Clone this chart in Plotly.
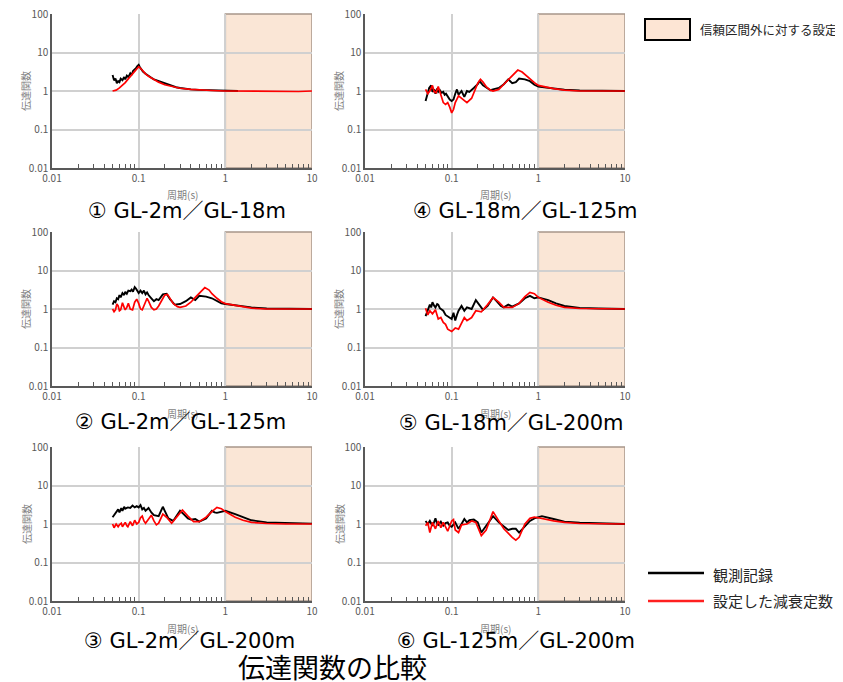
import plotly.graph_objects as go

# page body has an 8px margin; figure is sized to fill the rest of the window
OFF = 8
W, H = 835, 674

panel_labels = ["① GL-2m／GL-18m", "② GL-2m／GL-125m", "③ GL-2m／GL-200m",
                "④ GL-18m／GL-125m", "⑤ GL-18m／GL-200m", "⑥ GL-125m／GL-200m"]
title_text = "伝達関数の比較"
y_title = "伝達関数"
x_title = "周期(s)"
legend_shade = "信頼区間外に対する設定"
legend_obs = "観測記録"
legend_set = "設定した減衰定数"

x_ticks = [0.01, 0.1, 1, 10]
x_tick_text = ["0.01", "0.1", "1", "10"]
x_minor_ticks = [0.02, 0.03, 0.04, 0.05, 0.06, 0.07, 0.08, 0.09,
                 0.2, 0.3, 0.4, 0.5, 0.6, 0.7, 0.8, 0.9,
                 2, 3, 4, 5, 6, 7, 8, 9]
y_ticks = [0.01, 0.1, 1, 10, 100]
y_tick_text = ["0.01", "0.1", "1", "10", "100"]
shade_from, shade_to = 1, 10

# ① GL-2m / GL-18m
T1_obs = [0.050, 0.052, 0.054, 0.056, 0.058, 0.060, 0.062, 0.065, 0.068, 0.070, 0.073, 0.076, 0.080,
          0.083, 0.086, 0.090, 0.093, 0.096, 0.100, 0.103, 0.107, 0.112, 0.12, 0.13, 0.14, 0.15, 0.17,
          0.19, 0.21, 0.24, 0.27, 0.30, 0.35, 0.40, 0.50, 0.60, 0.70, 0.85, 1.0, 1.2, 1.4]
V1_obs = [2.6, 1.9, 2.1, 1.6, 1.8, 1.7, 2.1, 1.9, 2.3, 2.0, 2.5, 2.3, 2.9,
          2.6, 3.3, 3.6, 3.9, 4.4, 4.8, 4.2, 3.7, 3.2, 2.8, 2.4, 2.2, 2.0, 1.8,
          1.65, 1.5, 1.35, 1.25, 1.2, 1.14, 1.1, 1.07, 1.05, 1.04, 1.03, 1.02, 1.0, 1.0]
T1_set = [0.050, 0.055, 0.060, 0.065, 0.070, 0.075, 0.080, 0.085, 0.090, 0.095, 0.100, 0.105, 0.110,
          0.12, 0.13, 0.15, 0.17, 0.20, 0.25, 0.30, 0.40, 0.50, 0.70, 1.0, 1.5, 2.0, 3.0, 5.0, 7.0, 10.0]
V1_set = [1.0, 1.05, 1.2, 1.4, 1.65, 2.0, 2.4, 2.9, 3.4, 3.9, 4.3, 3.9, 3.4,
          2.8, 2.4, 1.95, 1.7, 1.45, 1.28, 1.18, 1.1, 1.06, 1.03, 1.0, 0.99, 0.98, 0.97, 0.97, 0.97, 1.0]

# ② GL-2m / GL-125m
T2_obs = [0.050, 0.052, 0.054, 0.056, 0.058, 0.060, 0.062, 0.065, 0.068, 0.070, 0.073, 0.076, 0.080,
          0.083, 0.086, 0.090, 0.093, 0.096, 0.100, 0.105, 0.110, 0.115, 0.12, 0.125, 0.13, 0.14, 0.15,
          0.16, 0.17, 0.19, 0.21, 0.23, 0.26, 0.30, 0.35, 0.40, 0.45, 0.50, 0.60, 0.70, 0.80, 0.90,
          1.0, 1.5, 2.0, 3.0, 5.0, 10.0]
V2_obs = [1.3, 1.6, 1.5, 1.9, 1.8, 2.3, 2.0, 2.6, 2.3, 2.8, 2.5, 3.0, 2.9,
          3.2, 2.8, 3.7, 3.4, 3.1, 2.6, 3.0, 2.6, 3.0, 2.4, 2.7, 2.3, 1.9, 1.6,
          1.8, 1.7, 2.4, 2.5, 1.8, 1.3, 1.35, 1.6, 2.0, 1.7, 2.2, 2.1, 1.9, 1.6, 1.4,
          1.35, 1.2, 1.1, 1.03, 1.0, 1.0]
T2_set = [0.050, 0.052, 0.054, 0.056, 0.058, 0.060, 0.062, 0.065, 0.068, 0.070, 0.073, 0.076, 0.080,
          0.085, 0.090, 0.095, 0.100, 0.105, 0.110, 0.115, 0.120, 0.125, 0.130, 0.140, 0.150, 0.160,
          0.170, 0.185, 0.200, 0.215, 0.230, 0.250, 0.280, 0.300, 0.350, 0.400, 0.450, 0.500, 0.550,
          0.580, 0.650, 0.700, 0.800, 0.900, 1.0, 1.5, 2.0, 3.0, 5.0, 10.0]
V2_set = [1.0, 0.85, 0.95, 1.35, 1.2, 0.9, 0.95, 1.45, 1.1, 0.95, 1.1, 1.4, 1.0,
          0.95, 1.5, 1.8, 1.4, 1.0, 0.95, 1.2, 1.6, 1.9, 1.6, 1.1, 0.95, 1.0,
          1.2, 1.7, 2.3, 2.4, 1.9, 1.4, 1.15, 1.1, 1.2, 1.5, 2.0, 2.6, 3.2,
          3.6, 3.1, 2.5, 1.9, 1.55, 1.38, 1.15, 1.05, 1.0, 1.0, 1.0]

# ③ GL-2m / GL-200m
T3_obs = [0.050, 0.052, 0.055, 0.058, 0.060, 0.063, 0.065, 0.068, 0.070, 0.075, 0.080, 0.085, 0.090,
          0.095, 0.100, 0.105, 0.110, 0.115, 0.12, 0.13, 0.14, 0.15, 0.17, 0.19, 0.20, 0.22, 0.25,
          0.28, 0.30, 0.33, 0.37, 0.40, 0.45, 0.50, 0.60, 0.70, 0.75, 0.80, 0.90, 1.0, 1.3, 1.6,
          2.0, 3.0, 5.0, 10.0]
V3_obs = [1.5, 1.7, 1.9, 2.4, 2.0, 2.6, 2.2, 2.8, 2.5, 2.7, 2.6, 3.0, 2.7,
          2.9, 2.7, 3.1, 2.4, 2.6, 2.2, 2.6, 2.0, 1.7, 1.6, 2.8, 2.2, 1.4, 1.2,
          1.7, 2.2, 1.8, 1.4, 1.3, 1.35, 1.15, 1.4, 2.2, 2.0, 1.95, 2.05, 2.2, 1.8, 1.5,
          1.25, 1.1, 1.05, 1.02]
T3_set = [0.050, 0.052, 0.055, 0.058, 0.060, 0.063, 0.065, 0.068, 0.070, 0.073, 0.075, 0.080, 0.085,
          0.090, 0.095, 0.100, 0.105, 0.110, 0.115, 0.12, 0.13, 0.14, 0.15, 0.16, 0.17, 0.19, 0.21,
          0.24, 0.28, 0.32, 0.37, 0.43, 0.50, 0.60, 0.70, 0.80, 0.90, 1.0, 1.3, 1.6, 2.0, 3.0, 5.0, 10.0]
V3_set = [1.0, 0.8, 1.0, 0.85, 0.95, 1.05, 0.85, 1.0, 1.1, 0.9, 0.85, 1.15, 0.9,
          1.25, 1.0, 1.1, 1.45, 1.6, 1.2, 1.05, 1.35, 1.7, 1.2, 0.95, 1.05, 1.8, 1.5,
          1.05, 1.6, 2.3, 1.6, 1.15, 1.15, 1.5, 2.1, 2.7, 2.5, 2.1, 1.5, 1.25, 1.1, 1.03, 1.0, 1.0]

# ④ GL-18m / GL-125m
T4_obs = [0.050, 0.052, 0.055, 0.058, 0.060, 0.063, 0.065, 0.068, 0.070, 0.073, 0.076, 0.080, 0.083,
          0.086, 0.090, 0.095, 0.100, 0.105, 0.110, 0.115, 0.12, 0.13, 0.14, 0.15, 0.16, 0.17, 0.18,
          0.20, 0.21, 0.23, 0.25, 0.28, 0.30, 0.35, 0.40, 0.45, 0.50, 0.55, 0.60, 0.70, 0.80, 0.90,
          1.0, 1.5, 2.0, 3.0, 5.0, 10.0]
V4_obs = [0.55, 0.75, 1.2, 1.4, 0.95, 1.1, 0.85, 1.15, 0.95, 1.05, 0.9, 0.95, 0.8,
          0.85, 0.7, 0.6, 0.55, 0.6, 0.85, 1.1, 0.8, 1.0, 0.7, 1.0, 0.95, 1.1, 1.2,
          1.5, 1.8, 1.4, 1.25, 1.05, 1.1, 1.2, 1.5, 2.0, 1.6, 1.7, 2.1, 2.0, 1.8, 1.45,
          1.3, 1.15, 1.08, 1.03, 1.0, 1.0]
T4_set = [0.050, 0.053, 0.056, 0.060, 0.063, 0.066, 0.070, 0.073, 0.076, 0.080, 0.085, 0.090, 0.095,
          0.100, 0.105, 0.110, 0.120, 0.130, 0.140, 0.150, 0.170, 0.190, 0.200, 0.215, 0.230, 0.250,
          0.280, 0.300, 0.350, 0.400, 0.450, 0.500, 0.580, 0.650, 0.700, 0.800, 0.900, 1.0, 1.5, 2.0,
          3.0, 5.0, 10.0]
V4_set = [1.1, 0.85, 1.0, 1.4, 0.95, 0.9, 1.3, 0.95, 0.75, 0.5, 0.45, 0.5, 0.38,
          0.27, 0.33, 0.5, 0.75, 0.65, 0.55, 0.5, 0.65, 1.2, 1.6, 2.0, 1.7, 1.3,
          1.05, 1.0, 1.1, 1.5, 2.0, 2.6, 3.5, 3.1, 2.7, 2.0, 1.65, 1.4, 1.15, 1.05,
          1.0, 1.0, 1.0]

# ⑤ GL-18m / GL-200m
T5_obs = [0.050, 0.053, 0.056, 0.058, 0.060, 0.063, 0.065, 0.068, 0.070, 0.073, 0.075, 0.080, 0.085,
          0.090, 0.095, 0.100, 0.105, 0.110, 0.115, 0.12, 0.13, 0.14, 0.15, 0.17, 0.19, 0.21, 0.23,
          0.26, 0.30, 0.33, 0.37, 0.40, 0.45, 0.50, 0.60, 0.70, 0.80, 0.90, 1.0, 1.3, 1.6, 2.0, 3.0,
          5.0, 10.0]
V5_obs = [0.65, 0.9, 1.3, 1.1, 1.5, 1.2, 1.1, 1.35, 1.3, 1.05, 1.0, 0.9, 0.7,
          0.65, 0.6, 0.55, 0.8, 0.5, 0.7, 0.9, 1.2, 0.9, 1.1, 1.0, 1.7, 1.3, 0.95,
          1.2, 2.0, 1.6, 1.2, 1.1, 1.3, 1.15, 1.4, 1.9, 2.2, 1.9, 2.0, 1.7, 1.4, 1.2, 1.07,
          1.03, 1.0]
T5_set = [0.050, 0.053, 0.056, 0.060, 0.065, 0.070, 0.075, 0.080, 0.085, 0.090, 0.100, 0.110, 0.120,
          0.130, 0.140, 0.150, 0.170, 0.190, 0.220, 0.260, 0.300, 0.350, 0.400, 0.500, 0.600, 0.700,
          0.800, 0.900, 1.0, 1.3, 1.6, 2.0, 3.0, 10.0]
V5_set = [1.05, 0.7, 0.9, 0.75, 0.95, 0.55, 0.6, 0.45, 0.4, 0.3, 0.26, 0.32, 0.3,
          0.45, 0.6, 0.5, 0.6, 0.9, 0.85, 1.3, 2.0, 1.5, 1.1, 1.1, 1.4, 2.1,
          2.7, 2.5, 2.0, 1.5, 1.25, 1.1, 1.03, 1.0]

# ⑥ GL-125m / GL-200m
T6_obs = [0.050, 0.053, 0.056, 0.060, 0.063, 0.065, 0.068, 0.070, 0.075, 0.080, 0.085, 0.090, 0.095,
          0.100, 0.110, 0.120, 0.130, 0.140, 0.150, 0.160, 0.180, 0.200, 0.220, 0.250, 0.300, 0.350,
          0.400, 0.450, 0.500, 0.550, 0.600, 0.700, 0.800, 0.900, 1.0, 1.1, 1.5, 2.0, 3.0, 5.0, 10.0]
V6_obs = [1.2, 1.0, 1.2, 0.9, 1.15, 1.4, 1.0, 0.95, 1.15, 0.9, 1.05, 1.1, 0.9,
          0.85, 1.1, 0.75, 1.0, 1.35, 1.1, 1.25, 1.3, 1.1, 0.6, 0.9, 1.6, 1.1,
          0.85, 0.7, 0.75, 0.75, 0.6, 0.9, 1.2, 1.4, 1.5, 1.6, 1.35, 1.15, 1.08, 1.03, 1.0]
T6_set = [0.050, 0.053, 0.056, 0.060, 0.065, 0.070, 0.075, 0.080, 0.090, 0.100, 0.105, 0.110, 0.120,
          0.130, 0.150, 0.170, 0.190, 0.220, 0.250, 0.300, 0.350, 0.400, 0.500, 0.550, 0.600, 0.700,
          0.800, 0.900, 1.0, 1.5, 2.0, 3.0, 10.0]
V6_set = [0.9, 1.1, 0.6, 1.1, 0.75, 1.2, 0.8, 1.1, 0.65, 1.2, 1.3, 0.7, 0.6,
          0.95, 1.0, 1.2, 1.1, 0.5, 0.7, 2.1, 1.2, 0.75, 0.45, 0.38, 0.45, 1.0,
          1.4, 1.5, 1.45, 1.2, 1.1, 1.03, 1.0]

panels = [(T1_obs, V1_obs, T1_set, V1_set), (T2_obs, V2_obs, T2_set, V2_set),
          (T3_obs, V3_obs, T3_set, V3_set), (T4_obs, V4_obs, T4_set, V4_set),
          (T5_obs, V5_obs, T5_set, V5_set), (T6_obs, V6_obs, T6_set, V6_set)]

# layout geometry in window pixels
col_x = [(52, 312), (365, 625)]
row_y = [(14, 168), (232, 386), (447, 601)]
label_pos = [(187, 211), (180, 422), (189, 641), (525, 211), (511, 423), (516, 641)]

def px(x):
    return (x - OFF) / W

def py(y):
    return 1 - (y - OFF) / H

fig = go.Figure()
shapes = []
annotations = []
CJK = "Noto Sans CJK JP"
LABEL_FONT = "DejaVu Sans, Noto Sans CJK JP"
TICK_COL = "#595959"

def note(text, x, y, size, color, family=CJK, xanchor="center", angle=0):
    annotations.append(dict(text=text, x=px(x), y=py(y), xref="paper", yref="paper",
                            xanchor=xanchor, yanchor="middle", showarrow=False, textangle=angle,
                            font=dict(family=family, size=size, color=color)))

for i, (To, Vo, Ts, Vs) in enumerate(panels):
    col = i // 3
    row = i % 3
    n = i + 1
    xa = "x" if n == 1 else f"x{n}"
    ya = "y" if n == 1 else f"y{n}"
    fig.add_trace(go.Scatter(x=To, y=Vo, mode="lines", line=dict(color="#000000", width=1.9),
                             xaxis=xa, yaxis=ya, showlegend=False, hoverinfo="skip"))
    fig.add_trace(go.Scatter(x=Ts, y=Vs, mode="lines", line=dict(color="#ff0000", width=1.7),
                             xaxis=xa, yaxis=ya, showlegend=False, hoverinfo="skip"))
    x0, x1 = col_x[col]
    y0, y1 = row_y[row]
    xkey = "xaxis" if n == 1 else f"xaxis{n}"
    ykey = "yaxis" if n == 1 else f"yaxis{n}"
    fig.layout[xkey] = dict(
        type="log", range=[-2, 1], domain=[px(x0), px(x1)], anchor=ya, automargin=False,
        tickmode="array", tickvals=x_ticks, ticktext=x_tick_text, ticklabeloverflow="allow",
        tickfont=dict(family=CJK, size=10, color=TICK_COL),
        showgrid=True, gridcolor="#d0d0d0", gridwidth=1.5,
        showline=True, linecolor="#595959", linewidth=1.5, mirror=False,
        ticks="", zeroline=False,
        minor=dict(tickmode="array", tickvals=x_minor_ticks, ticks="inside", ticklen=4,
                   tickwidth=1.2, tickcolor="#595959", showgrid=False),
    )
    fig.layout[ykey] = dict(
        type="log", range=[-2, 2], domain=[py(y1), py(y0)], anchor=xa, automargin=False,
        tickmode="array", tickvals=y_ticks, ticktext=y_tick_text, ticklabeloverflow="allow",
        tickfont=dict(family=CJK, size=10, color=TICK_COL),
        showgrid=True, gridcolor="#d0d0d0", gridwidth=1.5,
        showline=True, linecolor="#595959", linewidth=1.5, mirror=False,
        ticks="", zeroline=False,
    )
    # shaded out-of-confidence region
    shapes.append(dict(type="rect", xref=xa, yref=f"{ya} domain", x0=shade_from, x1=shade_to,
                       y0=0, y1=1, fillcolor="rgba(247,214,186,0.6)",
                       line=dict(color="#a8968a", width=1.5), layer="below"))
    # axis titles
    note(x_title, (x0 + x1) / 2, y1 + 27, 10, "#7f7f7f")
    note(y_title, x0 - 26, (y0 + y1) / 2, 10, "#7f7f7f", angle=-90)
    lx, ly = label_pos[i]
    note(panel_labels[i], lx, ly, 21, "#000000", family=LABEL_FONT)

# main title
note(title_text, 332, 666, 27, "#000000")

# legend (drawn)
shapes.append(dict(type="rect", xref="paper", yref="paper", x0=px(645), x1=px(690), y0=py(40), y1=py(19),
                   fillcolor="#fde5d4", line=dict(color="#000000", width=2)))
note(legend_shade, 698, 29.5, 12.5, "#262626", xanchor="left")
shapes.append(dict(type="line", xref="paper", yref="paper", x0=px(648), x1=px(704), y0=py(573), y1=py(573),
                   line=dict(color="#000000", width=2.5)))
shapes.append(dict(type="line", xref="paper", yref="paper", x0=px(648), x1=px(704), y0=py(601), y1=py(601),
                   line=dict(color="#ff2020", width=2.5)))
note(legend_obs, 711, 574, 15, "#262626", xanchor="left")
note(legend_set, 711, 600, 15, "#262626", xanchor="left")

fig.update_layout(width=W, height=H, margin=dict(l=0, r=0, t=0, b=0),
                  paper_bgcolor="white", plot_bgcolor="white",
                  shapes=shapes, annotations=annotations, showlegend=False)

fig.write_html("out.html")
